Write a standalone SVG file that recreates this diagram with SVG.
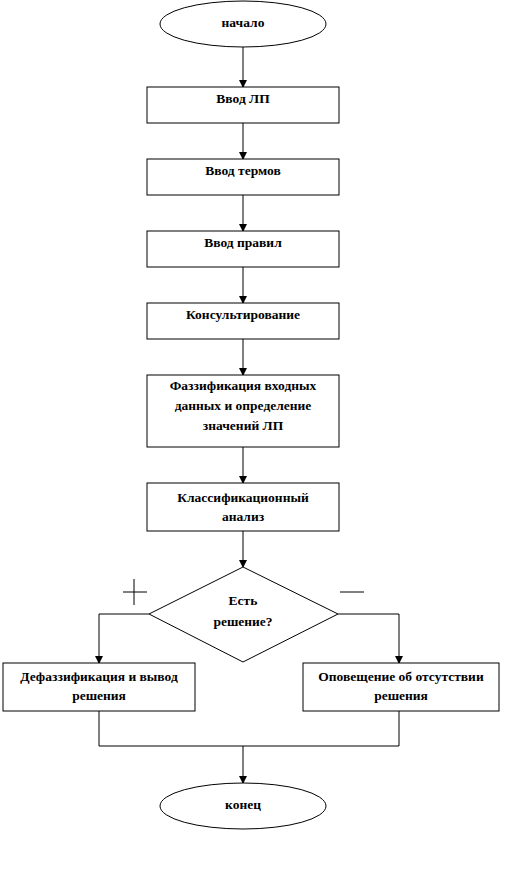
<svg xmlns="http://www.w3.org/2000/svg" width="531" height="879" viewBox="0 0 531 879">
<style>
.s{fill:#fff;stroke:#000;stroke-width:1}
.t{font-family:"Liberation Serif","DejaVu Serif","Times New Roman",serif;font-weight:bold;font-size:13.5px;text-anchor:middle;fill:#000}
.c{stroke:#000;stroke-width:1;fill:none}
</style>
<defs>
<marker id="a" markerWidth="8" markerHeight="8" refX="7" refY="4" orient="auto" markerUnits="userSpaceOnUse">
<path d="M0,0 L8,4 L0,8 Z" fill="#000"/>
</marker>
</defs>
<rect width="531" height="879" fill="#fff"/>
<g id="connectors">
<line class="c" x1="243" y1="47" x2="243" y2="87" marker-end="url(#a)"/>
<line class="c" x1="243" y1="123" x2="243" y2="159" marker-end="url(#a)"/>
<line class="c" x1="243" y1="195" x2="243" y2="231" marker-end="url(#a)"/>
<line class="c" x1="243" y1="267" x2="243" y2="303" marker-end="url(#a)"/>
<line class="c" x1="243" y1="339" x2="243" y2="375" marker-end="url(#a)"/>
<line class="c" x1="243" y1="447" x2="243" y2="483" marker-end="url(#a)"/>
<line class="c" x1="243" y1="531" x2="243" y2="567" marker-end="url(#a)"/>
<polyline class="c" points="149,614 99,614 99,663" marker-end="url(#a)"/>
<polyline class="c" points="338,614 399,614 399,663" marker-end="url(#a)"/>
<polyline class="c" points="99,711 99,746 399,746 399,711"/>
<line class="c" x1="243" y1="746" x2="243" y2="783" marker-end="url(#a)"/>
<line class="c" x1="123" y1="592" x2="147" y2="592"/>
<line class="c" x1="134" y1="579" x2="134" y2="605"/>
<line class="c" x1="340" y1="592" x2="364" y2="592"/>
</g>
<g id="start">
<ellipse class="s" cx="243" cy="24" rx="83" ry="23"/>
<text class="t" x="243" y="27">начало</text>
</g>
<g id="n1">
<rect class="s" x="147" y="87" width="192" height="36"/>
<text class="t" x="243" y="103">Ввод ЛП</text>
</g>
<g id="n2">
<rect class="s" x="147" y="159" width="192" height="36"/>
<text class="t" x="243" y="175">Ввод термов</text>
</g>
<g id="n3">
<rect class="s" x="147" y="231" width="192" height="36"/>
<text class="t" x="243" y="247">Ввод правил</text>
</g>
<g id="n4">
<rect class="s" x="147" y="303" width="192" height="36"/>
<text class="t" x="243" y="319">Консультирование</text>
</g>
<g id="n5">
<rect class="s" x="147" y="375" width="192" height="72"/>
<text class="t" x="243" y="390">Фаззификация  входных</text>
<text class="t" x="243" y="410">данных и определение</text>
<text class="t" x="243" y="430">значений ЛП</text>
</g>
<g id="n6">
<rect class="s" x="147" y="483" width="192" height="48"/>
<text class="t" x="243" y="502">Классификационный</text>
<text class="t" x="243" y="521">анализ</text>
</g>
<g id="decision">
<polygon class="s" points="243,567 338,614 243,662 149,614"/>
<text class="t" x="243" y="605">Есть</text>
<text class="t" x="243" y="626">решение?</text>
</g>
<g id="yes">
<rect class="s" x="3" y="663" width="192" height="48"/>
<text class="t" x="99" y="681">Дефаззификация и вывод</text>
<text class="t" x="99" y="700">решения</text>
</g>
<g id="no">
<rect class="s" x="303" y="663" width="196" height="48"/>
<text class="t" x="401" y="681">Оповещение об отсутствии</text>
<text class="t" x="401" y="700">решения</text>
</g>
<g id="end">
<ellipse class="s" cx="243" cy="806" rx="83" ry="23"/>
<text class="t" x="243" y="809">конец</text>
</g>
</svg>
